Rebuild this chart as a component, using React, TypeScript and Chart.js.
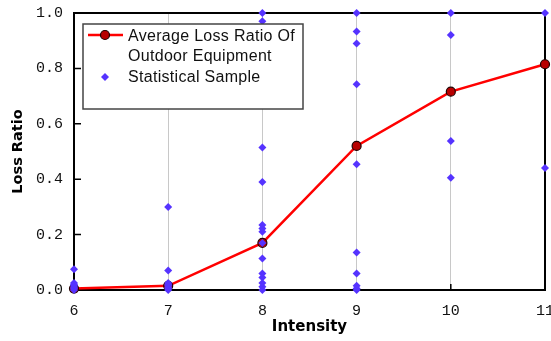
import React, { useEffect, useRef } from 'react';
import { Chart, registerables } from 'chart.js';

Chart.register(...registerables);

// ---- data ----
const intensities = [6, 7, 8, 9, 10, 11];
const avgLossRatio = [0.005, 0.015, 0.17, 0.52, 0.716, 0.815];

const sampleAt6 = [0, 0.005, 0.01, 0.015, 0.02, 0.025, 0.075];
const sampleAt7 = [0, 0.005, 0.01, 0.015, 0.02, 0.025, 0.07, 0.3];
const sampleAt8 = [0, 0.012, 0.025, 0.045, 0.06, 0.114, 0.17, 0.21, 0.222, 0.235, 0.39, 0.514, 0.97, 1.0];
const sampleAt9 = [0, 0.005, 0.015, 0.06, 0.135, 0.454, 0.743, 0.89, 0.933, 1.0];
const sampleAt10 = [0.405, 0.538, 0.921, 1.0];
const sampleAt11 = [0.44, 1.0];

const yTickLabels = ['0.0', '0.2', '0.4', '0.6', '0.8', '1.0'];
const xTickLabels = ['6', '7', '8', '9', '10', '11'];

const avgLegendLines = ['Average Loss Ratio Of', 'Outdoor Equipment'];
const sampleLegendLabel = 'Statistical Sample';
const xTitle = 'Intensity';
const yTitle = 'Loss Ratio';

const sampleGroups = [sampleAt6, sampleAt7, sampleAt8, sampleAt9, sampleAt10, sampleAt11];

const RED = '#ff0000';
const DARKRED = '#b80000';
const BLUE = '#5533ff';

const framePlugin = {
  id: 'frame',
  beforeDatasetsDraw(chart: any) {
    const { ctx, chartArea } = chart;
    const { left, right, top, bottom } = chartArea;
    const xs = chart.scales.x;
    const ys = chart.scales.y;
    ctx.save();
    ctx.strokeStyle = '#000';
    ctx.lineWidth = 1.5;
    ctx.beginPath();
    yTickLabels.forEach((l) => {
      const y = ys.getPixelForValue(parseFloat(l));
      ctx.moveTo(left, y);
      ctx.lineTo(left + 7, y);
    });
    xTickLabels.forEach((l) => {
      const x = xs.getPixelForValue(parseFloat(l));
      ctx.moveTo(x, bottom);
      ctx.lineTo(x, bottom - 6);
    });
    ctx.stroke();
    ctx.lineWidth = 2;
    ctx.strokeRect(left, top, right - left, bottom - top);
    ctx.restore();
  },
};

const legendPlugin = {
  id: 'boxLegend',
  afterDatasetsDraw(chart: any) {
    const { ctx } = chart;
    const bx = 83, by = 24, bw = 220, bh = 85;
    ctx.save();
    ctx.fillStyle = '#fff';
    ctx.fillRect(bx, by, bw, bh);
    ctx.strokeStyle = '#444';
    ctx.lineWidth = 1.5;
    ctx.strokeRect(bx, by, bw, bh);
    // line sample
    ctx.strokeStyle = RED;
    ctx.lineWidth = 2.5;
    ctx.beginPath();
    ctx.moveTo(88, 35);
    ctx.lineTo(123, 35);
    ctx.stroke();
    ctx.beginPath();
    ctx.arc(105, 35, 4.5, 0, Math.PI * 2);
    ctx.fillStyle = DARKRED;
    ctx.fill();
    ctx.lineWidth = 1.2;
    ctx.strokeStyle = '#200000';
    ctx.stroke();
    // diamond
    ctx.fillStyle = BLUE;
    ctx.beginPath();
    ctx.moveTo(105, 73);
    ctx.lineTo(109, 77);
    ctx.lineTo(105, 81);
    ctx.lineTo(101, 77);
    ctx.closePath();
    ctx.fill();
    // text
    ctx.fillStyle = '#111';
    ctx.font = '16px "Liberation Sans", Arial, sans-serif';
    try { (ctx as any).letterSpacing = '0.3px'; } catch (e) {}
    ctx.textBaseline = 'middle';
    ctx.textAlign = 'left';
    ctx.fillText(avgLegendLines[0], 128, 37);
    ctx.fillText(avgLegendLines[1], 128, 57);
    ctx.fillText(sampleLegendLabel, 128, 78);
    ctx.restore();
  },
};

export default function App() {
  const ref = useRef<HTMLCanvasElement>(null);
  useEffect(() => {
    if (!ref.current) return;
    const samplePoints: { x: number; y: number }[] = [];
    sampleGroups.forEach((g, i) => g.forEach((v) => samplePoints.push({ x: intensities[i], y: v })));
    const avgPoints = intensities.map((x, i) => ({ x, y: avgLossRatio[i] }));
    const chart = new Chart(ref.current, {
      type: 'scatter',
      data: {
        datasets: [
          {
            label: sampleLegendLabel,
            data: samplePoints,
            pointStyle: 'rectRot',
            pointRadius: 4,
            pointBackgroundColor: BLUE,
            pointBorderWidth: 0,
            borderColor: BLUE,
            backgroundColor: BLUE,
            clip: false,
            order: 0,
          },
          {
            label: avgLegendLines.join(' '),
            data: avgPoints,
            showLine: true,
            borderColor: RED,
            borderWidth: 2.5,
            pointRadius: 4.5,
            pointBackgroundColor: DARKRED,
            pointBorderColor: '#200000',
            pointBorderWidth: 1.2,
            clip: false,
            order: 1,
          } as any,
        ],
      },
      options: {
        responsive: false,
        animation: false,
        layout: { padding: { top: 13, right: 6, left: 0, bottom: 0 } },
        plugins: { legend: { display: false }, tooltip: { enabled: false } },
        scales: {
          x: {
            type: 'linear',
            min: 6,
            max: 11,
            afterBuildTicks: (s: any) => {
              s.ticks = xTickLabels.map((l) => ({ value: parseFloat(l) }));
            },
            ticks: {
              callback: (v: any, i: number) => xTickLabels[i],
              font: { family: '"Liberation Mono", monospace', size: 15 },
              color: '#111',
              padding: 12,
              maxRotation: 0,
            },
            grid: { display: true, drawOnChartArea: true, drawTicks: false, color: '#c8c8c8', lineWidth: 1 },
            border: { display: false },
            title: {
              display: true,
              text: xTitle,
              font: { family: '"DejaVu Sans", sans-serif', weight: 'bold', size: 15 },
              color: '#000',
              padding: { top: 0, bottom: 5 },
            },
            afterFit: (s: any) => {
              s.height = 51;
              s.paddingLeft = 0;
              s.paddingRight = 0;
            },
          },
          y: {
            type: 'linear',
            min: 0,
            max: 1,
            afterBuildTicks: (s: any) => {
              s.ticks = yTickLabels.map((l) => ({ value: parseFloat(l) }));
            },
            ticks: {
              callback: (v: any, i: number) => yTickLabels[i],
              font: { family: '"Liberation Mono", monospace', size: 15 },
              color: '#111',
              padding: 11,
            },
            grid: { display: false, drawTicks: false },
            border: { display: false },
            title: {
              display: true,
              text: yTitle,
              font: { family: '"DejaVu Sans", sans-serif', weight: 'bold', size: 14.5 },
              color: '#000',
              padding: { top: 10, bottom: 0 },
            },
            afterFit: (s: any) => {
              s.width = 74;
              s.paddingTop = 0;
              s.paddingBottom = 0;
            },
          },
        },
      } as any,
      plugins: [framePlugin, legendPlugin],
    });
    return () => chart.destroy();
  }, []);
  return (
    <div style={{ position: 'absolute', left: 0, top: 0, width: 551, height: 341, background: '#fff' }}>
      <canvas ref={ref} width={551} height={341} style={{ display: 'block' }} />
    </div>
  );
}
